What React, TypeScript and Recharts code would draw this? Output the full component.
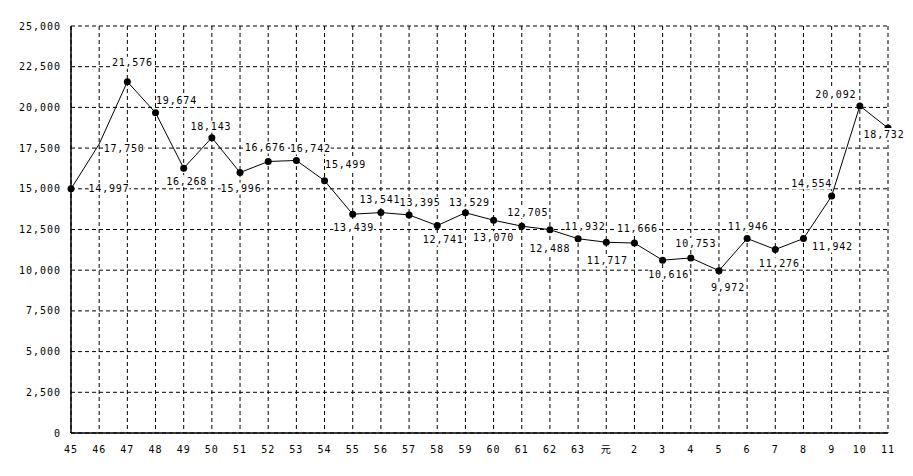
import { LineChart, Line, XAxis, YAxis, CartesianGrid, LabelList } from 'recharts';

// 年 (昭和45〜平成11)
const years = [
    '45', '46', '47', '48', '49', '50', '51', '52', '53', '54',
    '55', '56', '57', '58', '59', '60', '61', '62', '63', '元',
    '2', '3', '4', '5', '6', '7', '8', '9', '10', '11',
];

const counts = [
    14997, 17750, 21576, 19674, 16268, 18143, 15996, 16676, 16742, 15499,
    13439, 13541, 13395, 12741, 13529, 13070, 12705, 12488, 11932, 11717,
    11666, 10616, 10753, 9972, 11946, 11276, 11942, 14554, 20092, 18732,
];

// points drawn without a marker
const noDot = ['46'];

const yTicks = [0, 2500, 5000, 7500, 10000, 12500, 15000, 17500, 20000, 22500, 25000];

// label placement relative to each point (dx, dy)
const labelOffsets: [number, number][] = [
    [38, 0], [25, 4], [5, -19], [21, -12], [3, 13], [-1, -11], [1, 16], [-3, -14], [14, -12], [21, -16],
    [1, 13], [-1, -13], [11, -12], [6, 14], [4, -10], [0, 17], [6, -14], [0, 19], [7, -12], [1, 18],
    [3, -15], [6, 14], [5, -14], [9, 17], [1, -12], [4, 14], [29, 8], [-20, -13], [-24, -11], [-4, 6],
];

const chartData = years.map((year, i) => ({ year, count: counts[i] }));

const FONT = "'DejaVu Sans Mono', 'Noto Sans CJK JP', monospace";

const fmt = (v: number) => v.toLocaleString('en-US');

const ValueLabel = (props: any) => {
    const { x, y, value, index } = props;
    const [dx, dy] = labelOffsets[index] || [0, -12];
    const text = fmt(value);
    const w = text.length * 6.8;
    const cx = x + dx;
    const cy = y + dy;
    return (
        <g>
            <rect x={cx - w / 2} y={cy - 6} width={w} height={12} fill="#fff" />
            <text x={cx} y={cy} textAnchor="middle" dominantBaseline="central"
                fontSize={10} letterSpacing={0.8} fontFamily={FONT} fill="#000">
                {text}
            </text>
        </g>
    );
};

const Dot = (props: any) => {
    const { cx, cy, payload } = props;
    if (noDot.includes(payload.year)) return <g />;
    return <circle cx={cx} cy={cy} r={3.5} fill="#000" stroke="none" />;
};

const App = () => {
    return (
        <div style={{ margin: -8, width: 913, height: 476, background: '#fff' }}>
            <LineChart width={913} height={476} data={chartData}
                margin={{ top: 26, right: 25, bottom: 0, left: 0 }}>
                <CartesianGrid stroke="#000" strokeDasharray="4 3" />
                <XAxis
                    dataKey="year"
                    height={43}
                    axisLine={{ stroke: '#000', strokeWidth: 1.5 }}
                    tickLine={false}
                    tickSize={0}
                    tickMargin={13}
                    interval={0}
                    tick={{ fill: '#000', fontSize: 10, fontFamily: FONT, letterSpacing: 1 }}
                />
                <YAxis
                    width={71}
                    domain={[0, 25000]}
                    ticks={yTicks}
                    axisLine={{ stroke: '#000', strokeWidth: 1.5 }}
                    tickLine={false}
                    tickSize={0}
                    tickMargin={10}
                    tickFormatter={fmt}
                    tick={{ fill: '#000', fontSize: 10, fontFamily: FONT, letterSpacing: 1 }}
                />
                <Line
                    dataKey="count"
                    stroke="#000"
                    strokeWidth={1}
                    dot={<Dot />}
                    activeDot={false}
                    isAnimationActive={false}
                >
                    <LabelList dataKey="count" content={<ValueLabel />} />
                </Line>
            </LineChart>
        </div>
    );
};

export default App;
